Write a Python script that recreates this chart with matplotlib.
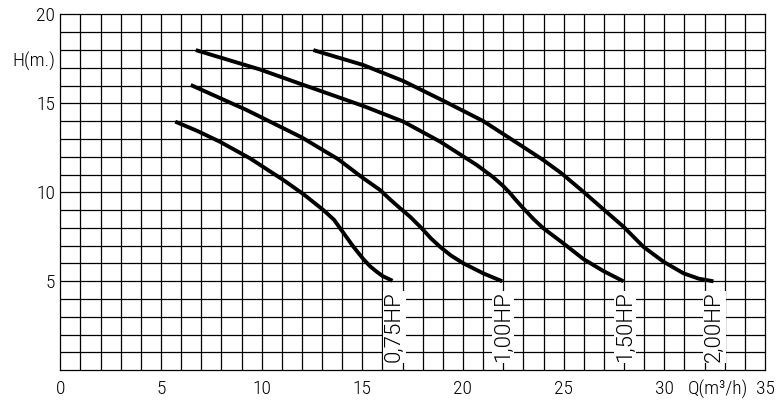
import matplotlib
matplotlib.use("Agg")
import matplotlib.pyplot as plt
import numpy as np

plt.rcParams['font.family'] = ['Roboto Condensed', 'DejaVu Sans']
plt.rcParams['font.weight'] = 300

# Pump curves: flow Q (m3/h) vs head H (m)
q_075 = [5.71, 6.8, 7.93, 9.42, 11.08, 12.07, 13.07, 13.6, 13.98, 14.3, 14.56, 15.05, 15.38, 15.7, 16.0, 16.5]
h_075 = [13.97, 13.45, 12.84, 11.91, 10.69, 9.9, 9.0, 8.45, 7.85, 7.35, 6.94, 6.25, 5.85, 5.55, 5.3, 5.03]

q_100 = [6.48, 9.26, 12.0, 13.8, 15.0, 15.88, 16.38, 16.88, 17.37, 17.95, 18.4, 18.86, 19.4, 20.02, 21.0, 21.95]
h_100 = [16.03, 14.62, 13.08, 11.86, 10.83, 10.13, 9.6, 9.1, 8.63, 7.98, 7.42, 6.94, 6.45, 6.01, 5.45, 5.0]

q_150 = [6.73, 9.92, 11.91, 15.05, 17.04, 18.86, 20.69, 21.5, 22.0, 22.3, 22.6, 23.0, 23.5, 23.99, 24.99, 25.98, 26.97, 27.97]
h_150 = [17.99, 16.9, 16.1, 14.85, 13.97, 12.85, 11.53, 10.85, 10.35, 10.0, 9.6, 9.1, 8.5, 7.98, 7.13, 6.25, 5.58, 5.0]

q_200 = [12.57, 15.05, 17.04, 19.03, 21.01, 22.84, 23.99, 24.9, 25.98, 26.97, 27.97, 28.96, 29.96, 30.95, 31.7, 32.44]
h_200 = [17.99, 17.15, 16.25, 15.14, 14.0, 12.66, 11.81, 11.06, 10.03, 9.05, 8.07, 6.94, 6.1, 5.45, 5.15, 5.0]

curves = [(q_075, h_075), (q_100, h_100), (q_150, h_150), (q_200, h_200)]
labels = ['0,75HP', '1,00HP', '1,50HP', '2,00HP']
label_q = [16.6, 22.0, 28.05, 32.5]
label_h = 0.45

xtick_pos = [0, 5, 10, 15, 20, 25, 30, 32.65, 35]
xtick_lab = ['0', '5', '10', '15', '20', '25', '30', 'Q(m³/h)', '35']
ytick_pos = [5, 10, 15, 17.45, 20]
ytick_lab = ['5', '10', '15', 'H(m.)', '20']

fig = plt.figure(figsize=(7.76, 4.01), dpi=100)
ax = fig.add_axes([0.0777, 0.0766, 0.9081, 0.8877])
ax.set_xlim(0, 35)
ax.set_ylim(0, 20)

for x in np.arange(1, 35):
    ax.axvline(x, color='black', lw=0.9, zorder=1)
for y in np.arange(1, 20):
    ax.axhline(y, color='black', lw=0.9, zorder=1)

for (q, h) in curves:
    ax.plot(q, h, color='black', lw=2.8, zorder=3, solid_joinstyle='round',
            solid_capstyle='butt')

for lab, xq in zip(labels, label_q):
    ax.text(xq, label_h, lab, rotation=90, ha='center', va='bottom',
            fontsize=16, color='black', zorder=4,
            family=['Roboto', 'DejaVu Sans'], fontweight=300,
            bbox=dict(facecolor='white', edgecolor='none', pad=0.5))

for s in ax.spines.values():
    s.set_linewidth(0.9)
    s.set_color('black')

ax.set_xticks(xtick_pos)
ax.set_xticklabels(xtick_lab)
ax.set_yticks(ytick_pos)
ax.set_yticklabels(ytick_lab)
ax.tick_params(length=0, labelsize=14, colors='black')
ax.tick_params(axis='x', pad=7)
ax.tick_params(axis='y', pad=3.8)

fig.savefig('out.png', dpi=100, facecolor='white')
